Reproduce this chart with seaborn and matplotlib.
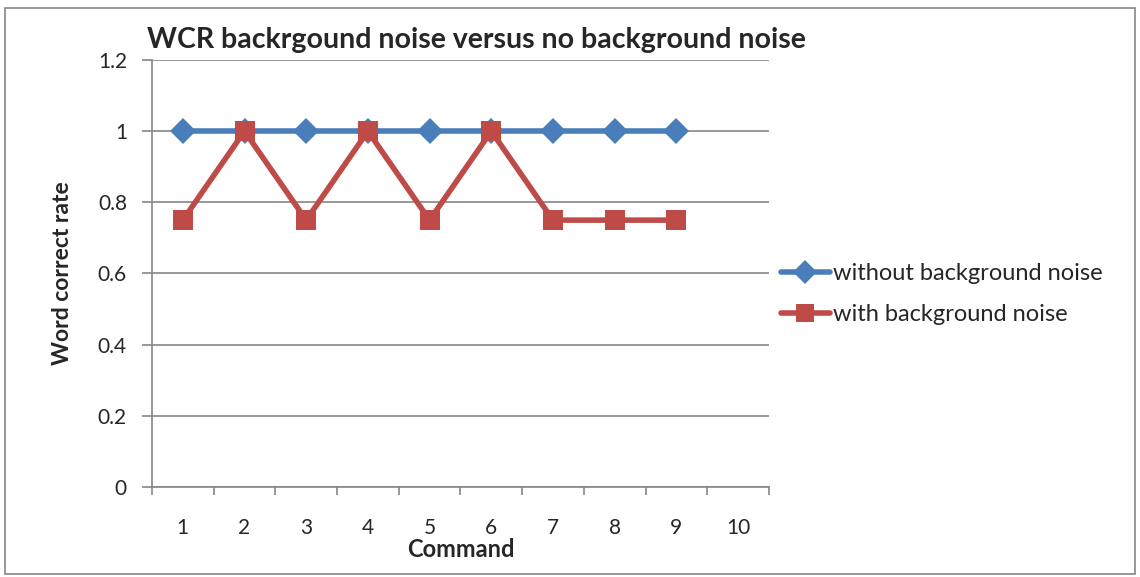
import numpy as np
import pandas as pd
import seaborn as sns
import matplotlib.pyplot as plt
from matplotlib.patches import Rectangle

# Word correct rate per command
commands = [1, 2, 3, 4, 5, 6, 7, 8, 9]
without_noise = [1, 1, 1, 1, 1, 1, 1, 1, 1]
with_noise = [0.75, 1, 0.75, 1, 0.75, 1, 0.75, 0.75, 0.75]
x_labels = ['1', '2', '3', '4', '5', '6', '7', '8', '9', '10']
series_names = ['without background noise', 'with background noise']

df = pd.concat([
    pd.DataFrame({'Command': commands, 'WCR': without_noise, 'series': series_names[0]}),
    pd.DataFrame({'Command': commands, 'WCR': with_noise, 'series': series_names[1]}),
])

sns.set_style('white')
plt.rcParams['font.family'] = ['Lato', 'DejaVu Sans']

fig = plt.figure(figsize=(11.4, 5.77), dpi=100)
ax = fig.add_axes([0.1333, 0.156, 0.5412, 0.740])

sns.lineplot(
    data=df, x='Command', y='WCR', hue='series', style='series',
    palette={series_names[0]: '#4A7EBB', series_names[1]: '#BE4B48'},
    markers={series_names[0]: 'D', series_names[1]: 's'},
    dashes=False, linewidth=4, markersize=13, markeredgewidth=0,
    ax=ax, legend=True
)
# marker sizes differ per series
for line in ax.lines:
    if line.get_marker() == 's':
        line.set_markersize(14.5)
    elif line.get_marker() == 'D':
        line.set_markersize(13.5)

ax.set_xlim(0.5, 10.5)
ax.set_ylim(0, 1.2)
ax.set_yticks(np.arange(0, 1.21, 0.2))
ax.set_yticklabels(['0', '0.2', '0.4', '0.6', '0.8', '1', '1.2'])
ax.set_xticks(range(1, 11))
ax.set_xticklabels(x_labels)
ax.set_xticks(np.arange(0.5, 10.6, 1), minor=True)
ax.tick_params(bottom=True, left=True, which='both')
ax.tick_params(axis='x', which='major', length=0, pad=22, labelsize=15)
ax.tick_params(axis='x', which='minor', length=6, color='#868686', width=1.2, direction='out')
ax.tick_params(axis='y', which='major', length=7, color='#868686', width=1.2, labelsize=15, pad=11)

ax.grid(axis='y', color='#868686', linewidth=1.2)
ax.set_axisbelow(True)
for s in ['top', 'right']:
    ax.spines[s].set_visible(False)
for s in ['left', 'bottom']:
    ax.spines[s].set_color('#868686')
    ax.spines[s].set_linewidth(1.2)

ax.set_xlabel('Command', fontsize=17, fontweight='bold', labelpad=0)
ax.set_ylabel('Word correct rate', fontsize=16.5, fontweight='bold', labelpad=18)
ax.set_title('WCR backrgound noise versus no background noise', fontsize=20.5,
             fontweight='bold', loc='left', x=-0.008, pad=9)

leg = ax.legend(loc='center left', bbox_to_anchor=(0.677, 0.49), bbox_transform=fig.transFigure,
                frameon=False, fontsize=17, handlelength=2.05, handletextpad=0.15,
                labelspacing=0.85, borderaxespad=0)
for h in leg.legend_handles:
    if h.get_marker() == 's':
        h.set_markersize(12.5)
    elif h.get_marker() == 'D':
        h.set_markersize(12)

fig.patches.append(Rectangle((0.004, 0.006), 0.992, 0.981, transform=fig.transFigure,
                             fill=False, edgecolor='#868686', linewidth=1.2))

plt.savefig('out.png', dpi=100)
